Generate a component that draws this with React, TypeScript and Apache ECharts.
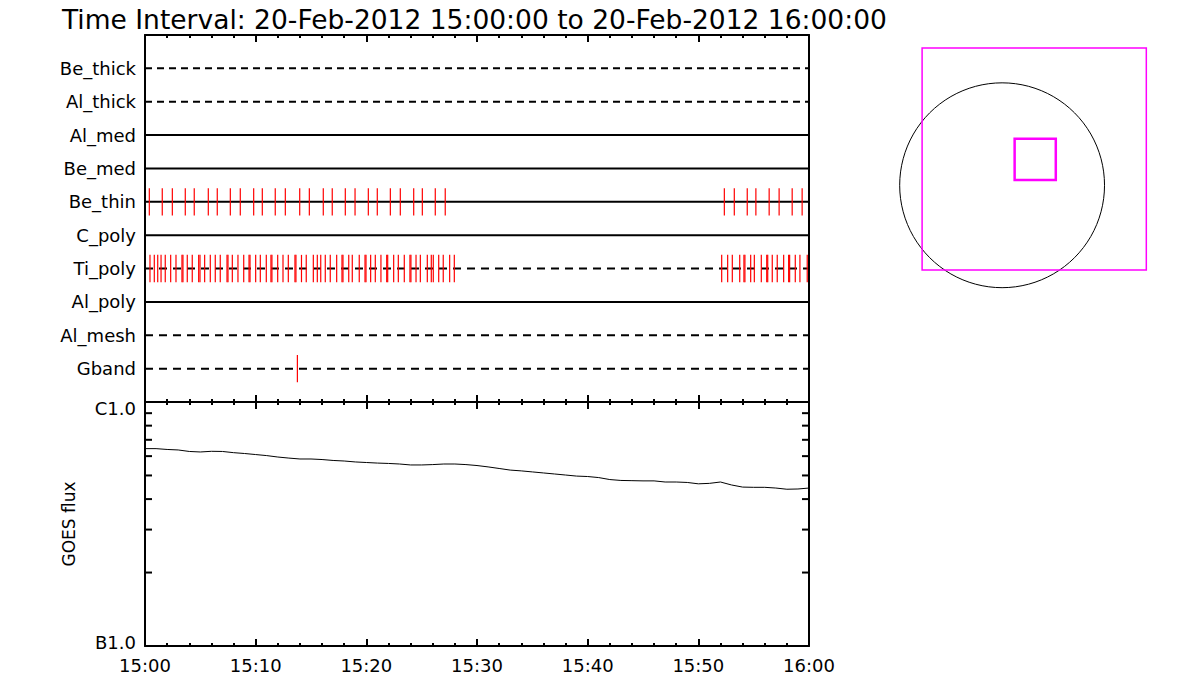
import React, { useEffect, useRef } from "react";
import * as echarts from "echarts";

const FONT = "DejaVu Sans";
const TITLE = "Time Interval: 20-Feb-2012 15:00:00 to 20-Feb-2012 16:00:00";

// x axis: minutes after 15:00
const timeTickLabels = ["15:00", "15:10", "15:20", "15:30", "15:40", "15:50", "16:00"];

// channel rows, bottom (1) to top (10)
const channels = ["Gband", "Al_mesh", "Al_poly", "Ti_poly", "C_poly", "Be_thin", "Be_med", "Al_med", "Al_thick", "Be_thick"];
const channelDashed = [true, true, false, true, false, false, false, false, true, true];

// exposure times (minutes after 15:00)
const beThinTimes = [
  0.39, 1.56, 2.47, 3.64, 4.45, 5.72, 6.53, 7.71, 8.61, 9.82, 10.6, 11.77, 12.68, 13.98,
  14.85, 16.11, 16.92, 18.1, 18.98, 20.18, 20.99, 22.17, 23.07, 24.28, 25.06, 26.23, 27.13,
  52.35, 53.25, 54.42, 55.2, 56.4, 57.3, 58.48, 59.38,
];
const tiPolyTimes = [
  0.45, 0.84, 1.15, 1.45, 1.83, 2.32, 2.8, 3.34, 3.43, 3.82, 4.27, 4.85, 4.97, 5.39, 5.9,
  6.35, 6.8, 7.41, 7.5, 7.89, 8.4, 8.92, 9.4, 9.49, 10.0, 10.42, 10.96, 11.38, 11.47, 11.99,
  12.47, 12.95, 13.55, 13.64, 14.14, 14.57, 15.21, 15.57, 15.88, 16.29, 16.74, 17.32, 17.8,
  17.89, 18.41, 18.73, 19.36, 19.88, 19.97, 20.39, 20.81, 21.32, 21.84, 21.93, 22.47, 22.89,
  23.43, 23.94, 24.03, 24.49, 24.88, 25.51, 25.87, 26.05, 26.54, 26.95, 27.53, 27.95,
  52.11, 52.65, 53.07, 53.74, 54.12, 54.21, 54.73, 55.06, 55.69, 56.18, 56.27, 56.68, 57.13,
  57.71, 58.16, 58.25, 58.76, 59.18, 59.84,
];
const gbandTimes = [13.77];

// GOES flux, one value per minute from 15:00 to 16:00 (W/m^2)
const goesFlux = [
  6.44e-7, 6.44e-7, 6.39e-7, 6.36e-7, 6.27e-7, 6.24e-7, 6.28e-7, 6.27e-7, 6.2e-7, 6.15e-7,
  6.09e-7, 6.03e-7, 5.95e-7, 5.89e-7, 5.84e-7, 5.84e-7, 5.81e-7, 5.76e-7, 5.73e-7, 5.68e-7,
  5.65e-7, 5.62e-7, 5.6e-7, 5.57e-7, 5.52e-7, 5.52e-7, 5.54e-7, 5.57e-7, 5.57e-7, 5.54e-7,
  5.49e-7, 5.42e-7, 5.34e-7, 5.26e-7, 5.22e-7, 5.17e-7, 5.12e-7, 5.07e-7, 5.02e-7, 4.97e-7,
  4.95e-7, 4.9e-7, 4.81e-7, 4.77e-7, 4.76e-7, 4.75e-7, 4.75e-7, 4.7e-7, 4.7e-7, 4.68e-7,
  4.62e-7, 4.64e-7, 4.7e-7, 4.57e-7, 4.48e-7, 4.47e-7, 4.47e-7, 4.44e-7, 4.39e-7, 4.4e-7,
  4.44e-7,
];
const goesMinorTickValues = [2e-7, 3e-7, 4e-7, 5e-7, 6e-7, 7e-7, 8e-7, 9e-7];
const goesLowLabel = "B1.0";
const goesHighLabel = "C1.0";

// solar context (arcsec)
const solarRadius = 973;
const fovBox = [-760, -805, 1370, 1305]; // x0, y0, x1, y1
const flareBox = [119, 50, 510, 441];

export default function App() {
  const ref = useRef<HTMLDivElement>(null);

  useEffect(() => {
    if (!ref.current) return;
    const chart = echarts.init(ref.current, undefined, { renderer: "svg" });

    const axisLine = { show: true, onZero: false, lineStyle: { color: "#000", width: 2 } };
    const timeAxisBase = {
      type: "value" as const,
      min: 0,
      max: 60,
      interval: 10,
      axisLine,
      axisTick: { show: true, inside: true, length: 7, lineStyle: { color: "#000", width: 2 } },
      minorTick: { show: true, splitNumber: 5, length: 3, lineStyle: { color: "#000", width: 2 } },
      splitLine: { show: false },
      minorSplitLine: { show: false },
    };

    const rowSeries = channels.map((name, i) => ({
      type: "line",
      name,
      xAxisIndex: 0,
      yAxisIndex: 0,
      data: [
        [0, i + 1],
        [60, i + 1],
      ],
      symbol: "none",
      silent: true,
      lineStyle: {
        color: "#000",
        width: 2,
        type: channelDashed[i] ? (i >= 8 ? [7, 5] : [8, 6]) : "solid",
      },
      z: 2,
    }));

    const eventData = [
      ...beThinTimes.map((t) => [t, channels.indexOf("Be_thin") + 1]),
      ...tiPolyTimes.map((t) => [t, channels.indexOf("Ti_poly") + 1]),
      ...gbandTimes.map((t) => [t, channels.indexOf("Gband") + 1]),
    ];

    const option: any = {
      animation: false,
      backgroundColor: "#fff",
      textStyle: { fontFamily: FONT, color: "#000" },
      title: {
        text: TITLE,
        left: 57,
        top: 1,
        textStyle: { fontFamily: FONT, fontSize: 26.5, fontWeight: "normal", color: "#000" },
      },
      grid: [
        { left: 145, top: 35, width: 664, height: 367 },
        { left: 145, top: 402, width: 664, height: 244 },
        { left: 880, top: 30, width: 280, height: 270 },
      ],
      xAxis: [
        { ...timeAxisBase, gridIndex: 0, position: "bottom", axisLabel: { show: false } },
        { ...timeAxisBase, gridIndex: 0, position: "top", axisLabel: { show: false } },
        {
          ...timeAxisBase,
          gridIndex: 1,
          position: "bottom",
          axisLabel: {
            show: true,
            margin: 10,
            fontSize: 18,
            fontFamily: FONT,
            color: "#000",
            formatter: (v: number) => timeTickLabels[Math.round(v / 10)] ?? "",
          },
        },
        { ...timeAxisBase, gridIndex: 1, position: "top", axisLabel: { show: false } },
        { type: "value", gridIndex: 2, min: -1160, max: 1500, show: false },
      ],
      yAxis: [
        {
          type: "value",
          gridIndex: 0,
          position: "left",
          min: 0,
          max: 11,
          interval: 1,
          axisLine,
          axisTick: { show: false },
          splitLine: { show: false },
          axisLabel: {
            show: true,
            margin: 9,
            fontSize: 18,
            fontFamily: FONT,
            color: "#000",
            formatter: (v: number) => (v >= 1 && v <= 10 ? channels[Math.round(v) - 1] : ""),
          },
        },
        {
          type: "value",
          gridIndex: 0,
          position: "right",
          min: 0,
          max: 11,
          interval: 1,
          axisLine,
          axisTick: { show: false },
          splitLine: { show: false },
          axisLabel: { show: false },
        },
        {
          type: "log",
          logBase: 10,
          gridIndex: 1,
          position: "left",
          min: 1e-7,
          max: 1e-6,
          axisLine,
          axisTick: { show: false },
          splitLine: { show: false },
          name: "GOES flux",
          nameLocation: "middle",
          nameRotate: 90,
          nameGap: 68,
          nameTextStyle: { fontFamily: FONT, fontSize: 17, color: "#000" },
          axisLabel: {
            show: true,
            margin: 9,
            fontFamily: FONT,
            fontSize: 18,
            color: "#000",
            formatter: (v: number) => (v > 3e-7 ? "{hi|" + goesHighLabel + "}" : "{lo|" + goesLowLabel + "}"),
            rich: {
              hi: { fontFamily: FONT, fontSize: 18, color: "#000", padding: [12, 0, 0, 0] },
              lo: { fontFamily: FONT, fontSize: 18, color: "#000", padding: [0, 0, 8, 0] },
            },
          },
        },
        {
          type: "log",
          logBase: 10,
          gridIndex: 1,
          position: "right",
          min: 1e-7,
          max: 1e-6,
          axisLine,
          axisTick: { show: false },
          splitLine: { show: false },
          axisLabel: { show: false },
        },
        { type: "value", gridIndex: 2, min: -1090, max: 1475, show: false },
      ],
      series: [
        ...rowSeries,
        {
          type: "custom",
          name: "exposures",
          xAxisIndex: 0,
          yAxisIndex: 0,
          silent: true,
          z: 5,
          data: eventData,
          renderItem: (_p: any, api: any) => {
            const t = api.value(0);
            const r = api.value(1);
            const a = api.coord([t, r + 0.41]);
            const b = api.coord([t, r - 0.41]);
            return {
              type: "line",
              shape: { x1: a[0], y1: a[1], x2: b[0], y2: b[1] },
              style: { stroke: "#ff0000", lineWidth: 1.2 },
            };
          },
        },
        {
          type: "line",
          name: "GOES",
          xAxisIndex: 2,
          yAxisIndex: 2,
          data: goesFlux.map((v, i) => [i, v]),
          symbol: "none",
          silent: true,
          lineStyle: { color: "#000", width: 1 },
        },
        {
          type: "custom",
          name: "goesMinorTicks",
          xAxisIndex: 2,
          yAxisIndex: 2,
          silent: true,
          data: goesMinorTickValues.map((v) => [0, v]),
          renderItem: (_p: any, api: any) => {
            const v = api.value(1);
            const l = api.coord([0, v]);
            const r = api.coord([60, v]);
            return {
              type: "group",
              children: [
                { type: "line", shape: { x1: l[0], y1: l[1], x2: l[0] + 7, y2: l[1] }, style: { stroke: "#000", lineWidth: 2 } },
                { type: "line", shape: { x1: r[0] - 7, y1: r[1], x2: r[0], y2: r[1] }, style: { stroke: "#000", lineWidth: 2 } },
              ],
            };
          },
        },
        {
          type: "custom",
          name: "sun",
          xAxisIndex: 4,
          yAxisIndex: 4,
          silent: true,
          clip: false,
          data: [[0, 0]],
          renderItem: (_p: any, api: any) => {
            const c = api.coord([0, 0]);
            const rpx = api.size([solarRadius, solarRadius])[0];
            const f0 = api.coord([fovBox[0], fovBox[3]]);
            const f1 = api.coord([fovBox[2], fovBox[1]]);
            const g0 = api.coord([flareBox[0], flareBox[3]]);
            const g1 = api.coord([flareBox[2], flareBox[1]]);
            return {
              type: "group",
              children: [
                { type: "circle", shape: { cx: c[0], cy: c[1], r: rpx }, style: { fill: "none", stroke: "#000", lineWidth: 1 } },
                {
                  type: "rect",
                  shape: { x: f0[0], y: f0[1], width: f1[0] - f0[0], height: f1[1] - f0[1] },
                  style: { fill: "none", stroke: "#ff00ff", lineWidth: 1.5 },
                },
                {
                  type: "rect",
                  shape: { x: g0[0], y: g0[1], width: g1[0] - g0[0], height: g1[1] - g0[1] },
                  style: { fill: "none", stroke: "#ff00ff", lineWidth: 2.5 },
                },
              ],
            };
          },
        },
      ],
    };

    chart.setOption(option);
    return () => chart.dispose();
  }, []);

  return (
    <div
      ref={ref}
      style={{ position: "absolute", left: 0, top: 0, width: 1200, height: 700, background: "#fff" }}
    />
  );
}
